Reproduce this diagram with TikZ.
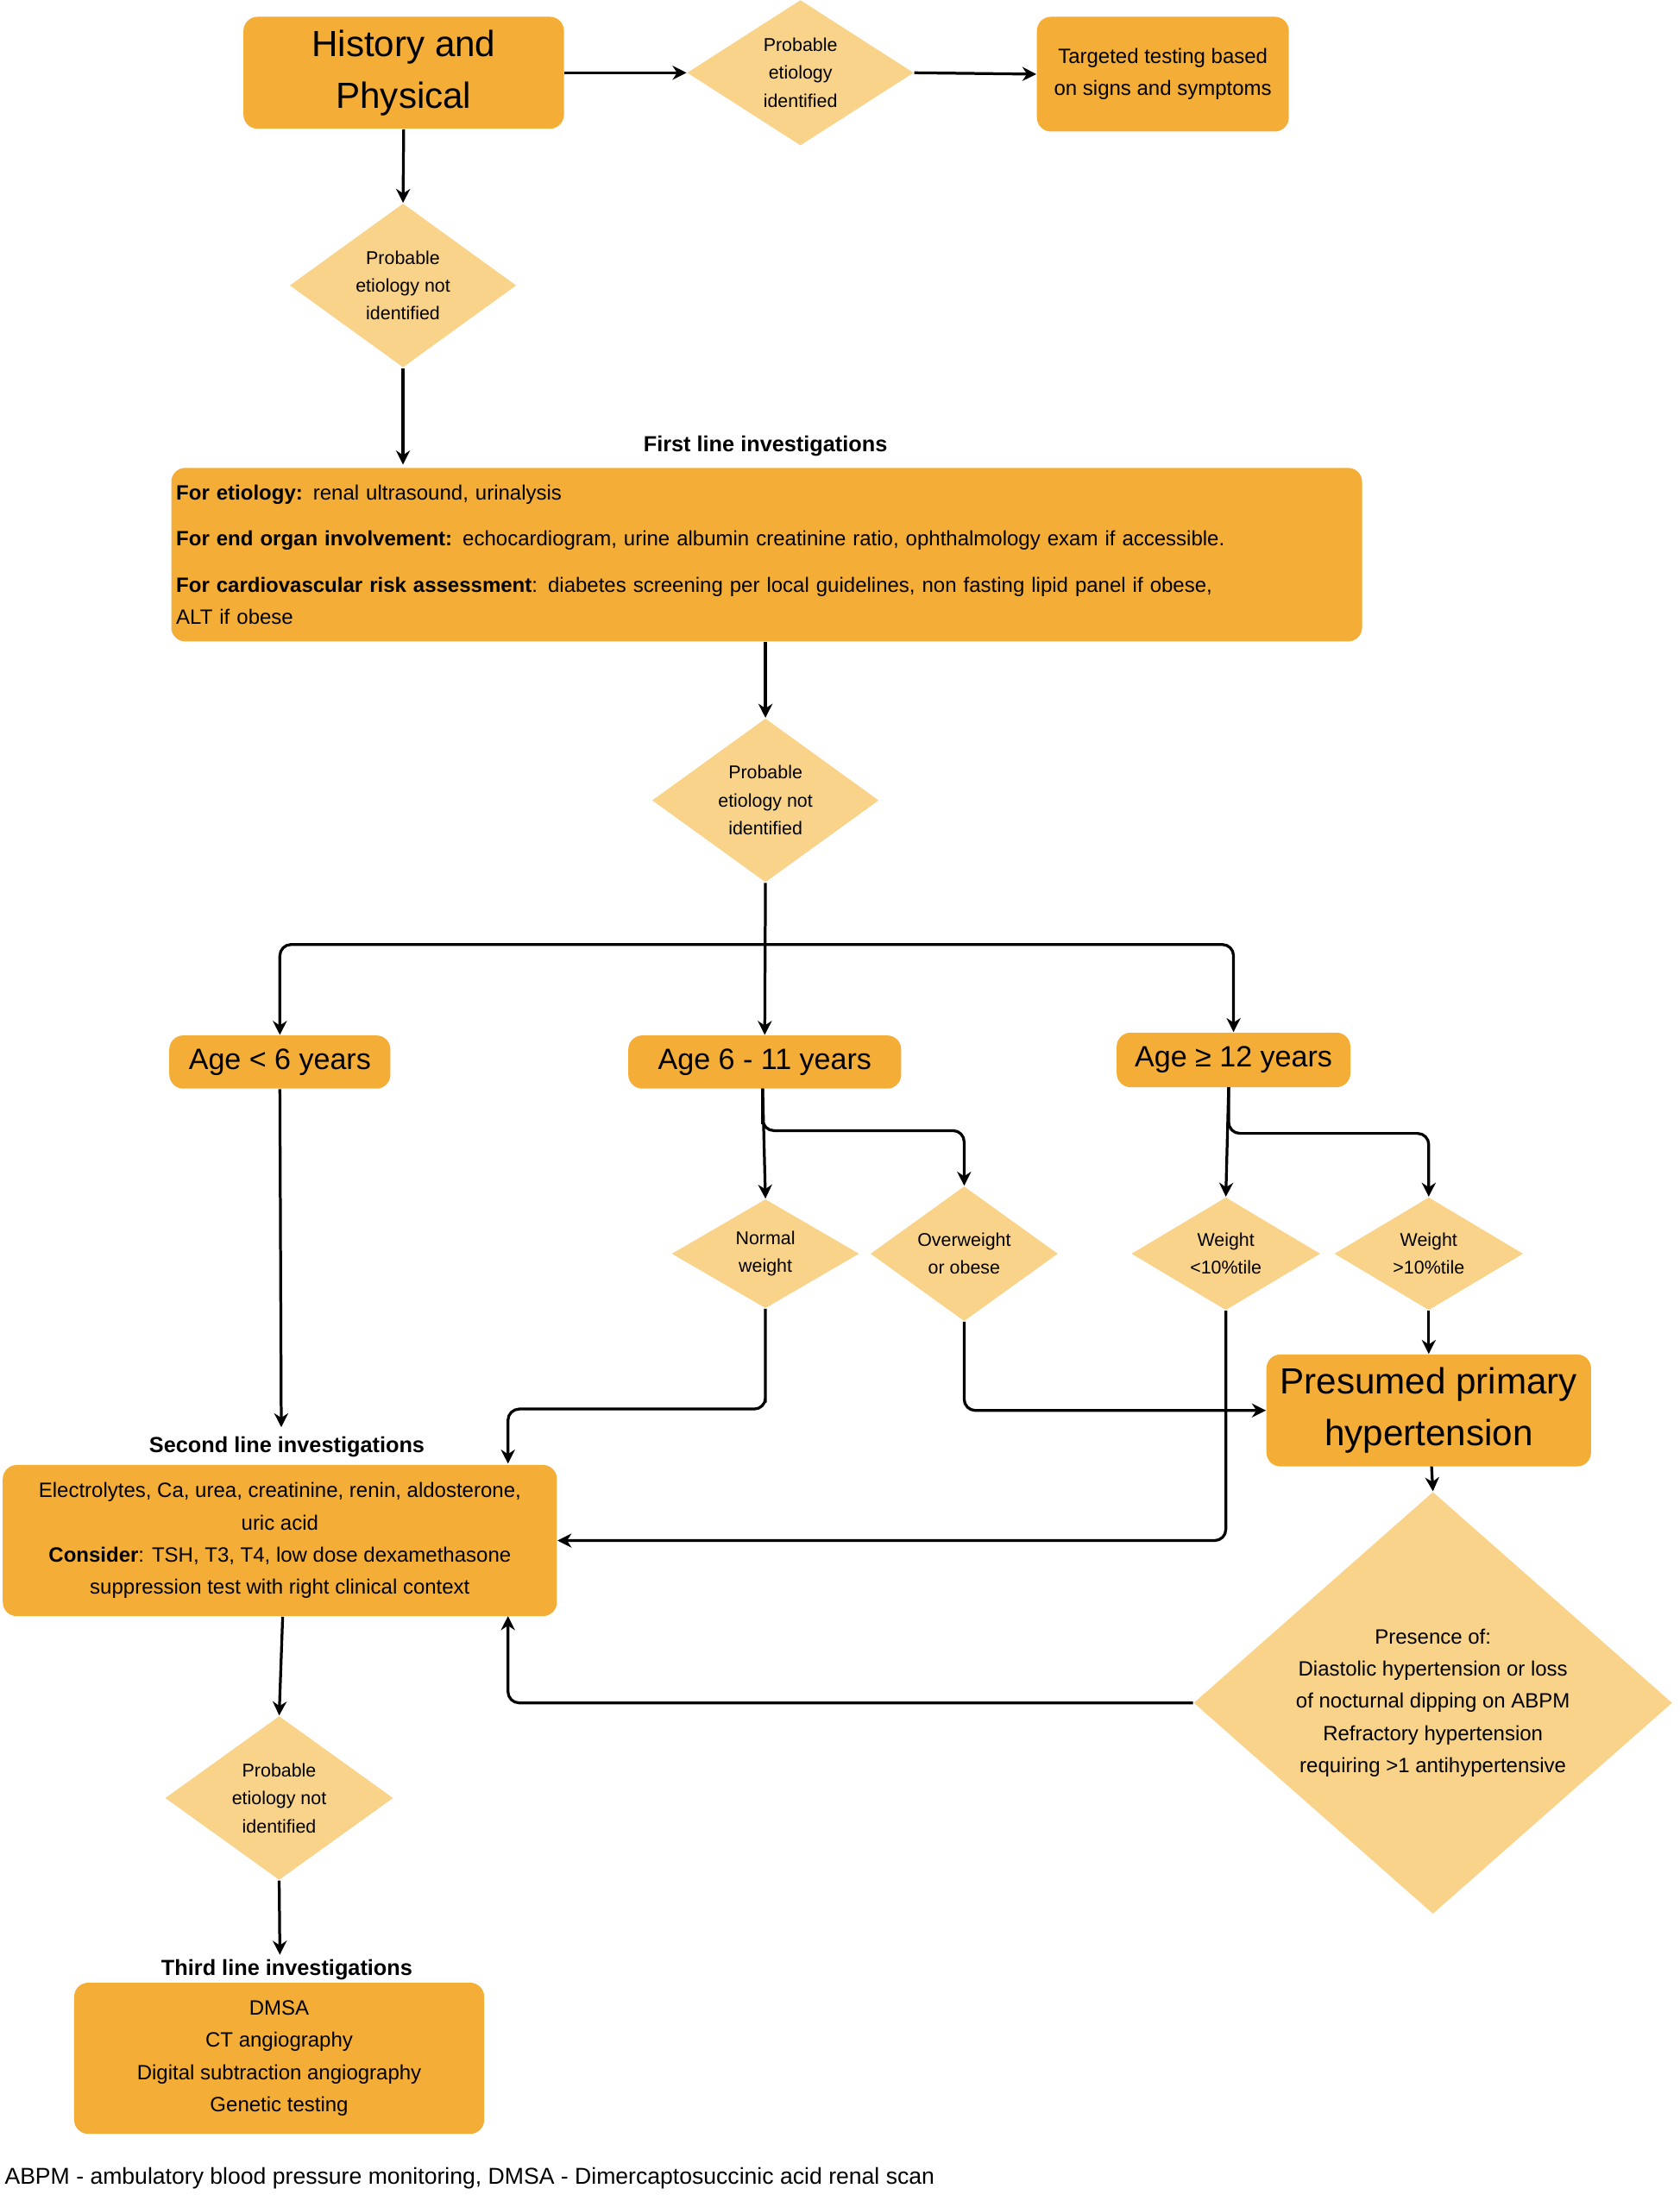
\documentclass[tikz,border=0pt]{standalone}
\usepackage{fontspec}
\setmainfont{Liberation Sans}
\usetikzlibrary{shapes.geometric,arrows.meta}
\definecolor{box}{HTML}{F4AD36}
\definecolor{dia}{HTML}{F9D38A}
\begin{document}
\begin{tikzpicture}[x=0.5pt,y=-0.5pt,
 bx/.style={fill=box,rounded corners=5pt,inner sep=2pt,align=center},
 dm/.style={diamond,fill=dia,inner sep=0pt,align=center,font=\fontsize{6.6}{10}\selectfont},
 ar/.style={line width=1pt,-{Stealth[length=5pt,width=5pt]},rounded corners=4pt},
 lb/.style={font=\fontsize{7.8}{10}\selectfont\bfseries},
 body/.style={font=\fontsize{7.4}{11.5}\selectfont}]
\useasboundingbox (0,0) rectangle (1200,1573);
\node[bx,minimum width=229/2*1pt,minimum height=40pt,font=\fontsize{13}{18.5}\selectfont] (hp) at (288.5,52) {History and\\Physical};
\node[dm,minimum width=81pt,minimum height=52pt] (d1) at (572,52) {Probable\\etiology\\identified};
\node[bx,minimum width=90pt,minimum height=41pt,body] (tt) at (831,53) {Targeted testing based\\on signs and symptoms};
\node[dm,minimum width=81pt,minimum height=51pt] (d2) at (288,204) {Probable\\etiology not\\identified};
\node[lb] (fl) at (547,319) {First line investigations};
\node[bx,minimum width=425.5pt,minimum height=62pt,anchor=north west,align=left,body,inner sep=1pt,text width=422pt] (big) at (122,334) {\textbf{For etiology:} renal ultrasound, urinalysis\\[5pt]\textbf{For end organ involvement:} echocardiogram, urine albumin creatinine ratio, ophthalmology exam if accessible.\\[5pt]\textbf{For cardiovascular risk assessment}: diabetes screening per local guidelines, non fasting lipid panel if obese,\\ALT if obese};
\node[dm,minimum width=81pt,minimum height=50.5pt] (d3) at (547,572) {Probable\\etiology not\\identified};
\node[bx,minimum width=79pt,minimum height=19pt,font=\fontsize{10.5}{12}\selectfont] (a1) at (200,759) {Age < 6 years};
\node[bx,minimum width=97.5pt,minimum height=19pt,font=\fontsize{10.5}{12}\selectfont] (a2) at (546.5,759) {Age 6 - 11 years};
\node[bx,minimum width=83.5pt,minimum height=19.5pt,font=\fontsize{10.5}{12}\selectfont] (a3) at (881.5,757.5) {Age ≥ 12 years};
\node[dm,minimum width=67pt,minimum height=39pt] (nw) at (547,896) {Normal\\weight};
\node[dm,minimum width=67pt,minimum height=39pt] (ow) at (689,896) {Overweight\\or obese};
\node[dm,minimum width=67.5pt,minimum height=39pt] (wl) at (876,896) {Weight\\<10\%tile};
\node[dm,minimum width=67.5pt,minimum height=39pt] (wg) at (1021,896) {Weight\\>10\%tile};
\node[bx,minimum width=116pt,minimum height=40pt,font=\fontsize{13}{18.5}\selectfont] (ph) at (1021,1008) {Presumed primary\\hypertension};
\node[lb] (sl) at (205,1034) {Second line investigations};
\node[bx,minimum width=198pt,minimum height=54pt,body] (sb) at (200,1101) {Electrolytes, Ca, urea, creatinine, renin, aldosterone,\\uric acid\\\textbf{Consider}: TSH, T3, T4, low dose dexamethasone\\suppression test with right clinical context};
\node[dm,minimum width=171pt,minimum height=110pt,font=\fontsize{7.4}{11.5}\selectfont] (d4) at (1024,1217) {Presence of:\\Diastolic hypertension or loss\\of nocturnal dipping on ABPM\\Refractory hypertension\\requiring >1 antihypertensive};
\node[dm,minimum width=81.5pt,minimum height=51pt] (d5) at (199.5,1285) {Probable\\etiology not\\identified};
\node[lb] (tl) at (205,1408) {Third line investigations};
\node[bx,minimum width=146.5pt,minimum height=54pt,body] (tb) at (199.5,1471) {DMSA\\CT angiography\\Digital subtraction angiography\\Genetic testing};
\node[anchor=west,inner sep=0pt,font=\fontsize{8.2}{10}\selectfont] (ft) at (3,1557) {ABPM - ambulatory blood pressure monitoring, DMSA - Dimercaptosuccinic acid renal scan};
\draw[ar] (hp.east) -- (d1.west);
\draw[ar] (d1.east) -- (tt.west);
\draw[ar] (hp.south) -- (d2.north);
\draw[ar] (d2.south) -- (288,332);
\draw[ar] (big.south -| d3) -- (d3.north);
\draw[ar] (d3.south) -- (a2.north);
\draw[ar] (547,675) -| (a1.north);
\draw[ar] (547,675) -| (a3.north);
\draw[ar] (545,778) -- (nw.north);
\draw[ar] (545,778) |- (545,808) -| (ow.north);
\draw[ar] (878,777) -- (wl.north);
\draw[ar] (878,777) |- (878,810) -| (wg.north);
\draw[ar] (a1.south) -- (201,1020);
\draw[ar] (nw.south) |- (547,1007) -| (363,1046);
\draw[ar] (ow.south) |- (ph.west);
\draw[ar] (wl.south) |- (sb.east |- 0,1101);
\draw[ar] (wg.south) -- (ph.north -| wg);
\draw[ar] (1023,1048) -- (d4.north);
\draw[ar] (d4.west) -| (363,1155);
\draw[ar] (sb.south -| 202,0) -- (d5.north);
\draw[ar] (d5.south) -- (200,1397);
\end{tikzpicture}
\end{document}
